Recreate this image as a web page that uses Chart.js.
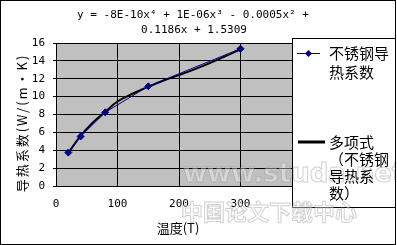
<!DOCTYPE html>
<html>
<head>
<meta charset="utf-8">
<script src="https://cdn.jsdelivr.net/npm/chart.js@4/dist/chart.umd.min.js"></script>
<style>
  body { margin: 0; background: #fff; }
  canvas { display: block; }
</style>
</head>
<body>
<canvas id="chart" width="397" height="245"></canvas>
<script>
// measured points
var temps = [20, 40, 80, 150, 300];
var conductivity = [3.74, 5.54, 8.24, 11.16, 15.36];

// trendline
var trendTemps = [20, 40, 60, 80, 100, 125, 150, 175, 200, 225, 250, 275, 300];
var trendValues = [3.7, 5.6, 7.1, 8.3, 9.45, 10.35, 11.1, 11.8, 12.4, 13.05, 13.75, 14.5, 15.3];

var xTicks = [0, 100, 200, 300, 400];
var yTicks = [0, 2, 4, 6, 8, 10, 12, 14, 16];

var titleLines = ['y = -8E-10x\u2074 + 1E-06x\u00b3 - 0.0005x\u00b2 +', '0.1186x + 1.5309'];
var xTitle = '温度(T)';
var yTitle = '导热系数(W/(m•K)';
var legendData = ['不锈钢导', '热系数'];
var legendTrend = ['多项式', '（不锈钢', '导热系', '数）'];

var monoFont = "'DejaVu Sans Mono', 'Noto Sans CJK SC', monospace";
var cjkFont = "'Noto Sans CJK SC', 'DejaVu Sans', sans-serif";

function toPoints(xs, ys) {
	var pts = [];
	for (var i = 0; i < xs.length; i++) {
		pts.push({x: xs[i], y: ys[i]});
	}
	return pts;
}

var decorations = {
	id: 'decorations',
	beforeDraw: function(chart) {
		var ctx = chart.ctx;
		var a = chart.chartArea;
		ctx.save();
		ctx.fillStyle = '#fff';
		ctx.fillRect(0, 0, chart.width, chart.height);
		ctx.fillStyle = '#c0c0c0';
		ctx.fillRect(a.left, a.top, a.right - a.left, a.bottom - a.top);
		ctx.restore();
	},
	afterDraw: function(chart) {
		var ctx = chart.ctx;
		ctx.save();
		ctx.fillStyle = '#000';
		ctx.textBaseline = 'middle';
		ctx.textAlign = 'center';

		// title
		ctx.font = '11px ' + monoFont;
		ctx.fillText(titleLines[0], 193, 15);
		ctx.fillText(titleLines[1], 194, 30);

		// axis titles
		ctx.font = '13px ' + cjkFont;
		ctx.fillText(xTitle, 178, 228);
		ctx.save();
		ctx.translate(22, 123);
		ctx.rotate(-Math.PI / 2);
		ctx.font = '13px ' + cjkFont;
		ctx.letterSpacing = '2px';
		ctx.fillText(yTitle, 0, 0);
		ctx.restore();

		// legend box
		ctx.fillStyle = '#fff';
		ctx.fillRect(292, 38, 103, 169);
		ctx.strokeStyle = '#000';
		ctx.lineWidth = 1;
		ctx.strokeRect(292.5, 38.5, 103, 169);

		// watermark, faint
		ctx.textAlign = 'left';
		ctx.lineWidth = 1;
		ctx.strokeStyle = 'rgba(150,150,150,0.45)';
		ctx.fillStyle = 'rgba(255,255,255,0.35)';
		ctx.font = 'bold 26px ' + "'DejaVu Sans', sans-serif";
		ctx.fillText('www.studa.net', 183, 175);
		ctx.strokeText('www.studa.net', 183, 175);
		ctx.font = 'bold 22px ' + cjkFont;
		ctx.fillText('中国论文下载中心', 181, 212);
		ctx.strokeText('中国论文下载中心', 181, 212);

		ctx.strokeStyle = '#000080';
		ctx.beginPath();
		ctx.moveTo(297, 53.5);
		ctx.lineTo(320, 53.5);
		ctx.stroke();
		ctx.fillStyle = '#000080';
		ctx.beginPath();
		ctx.moveTo(308.5, 50);
		ctx.lineTo(312, 53.5);
		ctx.lineTo(308.5, 57);
		ctx.lineTo(305, 53.5);
		ctx.closePath();
		ctx.fill();

		ctx.strokeStyle = '#000';
		ctx.lineWidth = 3;
		ctx.beginPath();
		ctx.moveTo(298, 142);
		ctx.lineTo(325, 142);
		ctx.stroke();

		ctx.fillStyle = '#000';
		ctx.font = '15px ' + cjkFont;
		ctx.fillText(legendData[0], 329, 53);
		ctx.fillText(legendData[1], 329, 72);
		for (var i = 0; i < legendTrend.length; i++) {
			ctx.fillText(legendTrend[i], 329, 142 + i * 17);
		}

		// outer frame
		ctx.lineWidth = 1;
		ctx.strokeStyle = '#000';
		ctx.strokeRect(0.5, 0.5, chart.width - 2, chart.height - 1);
		ctx.restore();
	}
};

var ctx = document.getElementById('chart').getContext('2d');
var myChart = new Chart(ctx, {
	type: 'scatter',
	data: {
		datasets: [{
			label: '不锈钢导热系数',
			data: toPoints(temps, conductivity),
			showLine: true,
			borderColor: '#000080',
			backgroundColor: '#000080',
			borderWidth: 1,
			pointStyle: 'rectRot',
			pointRadius: 3.5,
			order: 1
		}, {
			label: '多项式(不锈钢导热系数)',
			data: toPoints(trendTemps, trendValues),
			showLine: true,
			borderColor: '#000',
			borderWidth: 2,
			pointRadius: 0,
			tension: 0.4,
			order: 2
		}]
	},
	options: {
		responsive: false,
		animation: false,
		layout: {padding: {left: 0, right: 95, top: 43, bottom: 0}},
		plugins: {
			legend: {display: false},
			title: {display: false},
			tooltip: {enabled: false}
		},
		scales: {
			x: {
				type: 'linear',
				min: 0,
				max: 400,
				afterBuildTicks: function(scale) {
					scale.ticks = xTicks.map(function(v) { return {value: v}; });
				},
				afterFit: function(scale) { scale.height = 59; },
				grid: {color: '#000', lineWidth: 1, drawTicks: false},
				border: {color: '#000', width: 1},
				ticks: {color: '#000', padding: 12, maxRotation: 0, font: {family: monoFont, size: 11}}
			},
			y: {
				min: 0,
				max: 16,
				afterBuildTicks: function(scale) {
					scale.ticks = yTicks.map(function(v) { return {value: v}; });
				},
				afterFit: function(scale) { scale.width = 56; },
				grid: {color: '#000', lineWidth: 1, tickLength: 3},
				border: {color: '#000', width: 1},
				ticks: {color: '#000', padding: 8, font: {family: monoFont, size: 11}}
			}
		}
	},
	plugins: [decorations]
});
</script>
</body>
</html>
